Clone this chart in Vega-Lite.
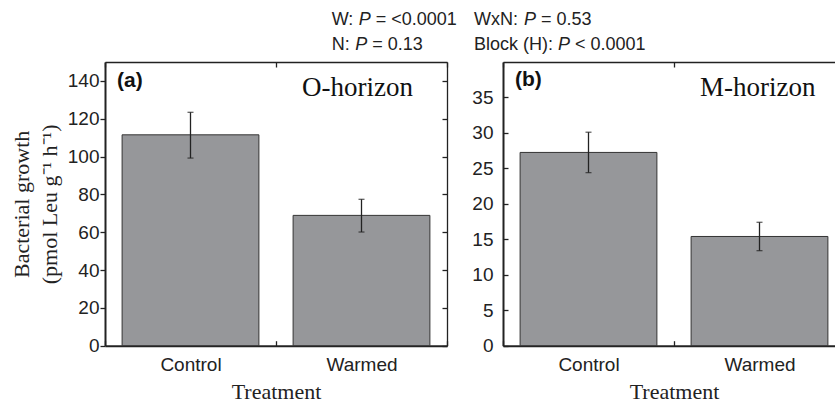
{
  "$schema": "https://vega.github.io/schema/vega-lite/v6.json",
  "padding": {"left": 10, "top": 11, "right": 0, "bottom": 0},
  "background": "white",
  "config": {
    "view": {"stroke": null},
    "font": "Liberation Sans",
    "axis": {
      "grid": false,
      "labelFont": "Liberation Sans",
      "labelFontSize": 19,
      "labelColor": "#222",
      "titleFont": "Liberation Serif",
      "titleFontSize": 22,
      "titleFontWeight": "normal",
      "titleColor": "#222",
      "domainColor": "#222",
      "tickColor": "#222",
      "tickWidth": 1.3,
      "zindex": 1
    }
  },
  "datasets": {
    "o_horizon": [
      {"horizon": "O-horizon", "treatment": "Control", "mean": 111.5, "lo": 99.2, "hi": 123.4},
      {"horizon": "O-horizon", "treatment": "Warmed", "mean": 68.9, "lo": 60.1, "hi": 77.4}
    ],
    "m_horizon": [
      {"horizon": "M-horizon", "treatment": "Control", "mean": 27.25, "lo": 24.4, "hi": 30.1},
      {"horizon": "M-horizon", "treatment": "Warmed", "mean": 15.4, "lo": 13.4, "hi": 17.4}
    ],
    "annot": [
      {"id": "W", "line": 1, "col": 1, "pre": "W:", "post": "= <0.0001"},
      {"id": "WxN", "line": 1, "col": 2, "pre": "WxN:", "post": "= 0.53"},
      {"id": "N", "line": 2, "col": 1, "pre": "N:", "post": "= 0.13"},
      {"id": "Block", "line": 2, "col": 2, "pre": "Block (H):", "post": "< 0.0001"}
    ]
  },
  "bounds": "flush",
  "spacing": 0,
  "vconcat": [
    {
      "width": 740,
      "height": 40,
      "data": {"name": "annot"},
      "encoding": {
        "x": {"field": "col", "type": "quantitative", "scale": {"domain": [1, 2], "range": [226.7, 369]}, "axis": null},
        "y": {"field": "line", "type": "quantitative", "scale": {"domain": [1, 2], "range": [3.4, 28.2]}, "axis": null}
      },
      "layer": [
        {"mark": {"type": "text", "align": "left", "baseline": "alphabetic", "fontSize": 18, "color": "#222"},
         "encoding": {"text": {"field": "pre"}}},
        {"transform": [{"filter": "datum.id === 'W'"}],
         "mark": {"type": "text", "align": "left", "baseline": "alphabetic", "fontSize": 18, "fontStyle": "italic", "color": "#222", "dx": 27},
         "encoding": {"text": {"value": "P"}}},
        {"transform": [{"filter": "datum.id === 'N'"}],
         "mark": {"type": "text", "align": "left", "baseline": "alphabetic", "fontSize": 18, "fontStyle": "italic", "color": "#222", "dx": 23.5},
         "encoding": {"text": {"value": "P"}}},
        {"transform": [{"filter": "datum.id === 'WxN'"}],
         "mark": {"type": "text", "align": "left", "baseline": "alphabetic", "fontSize": 18, "fontStyle": "italic", "color": "#222", "dx": 50},
         "encoding": {"text": {"value": "P"}}},
        {"transform": [{"filter": "datum.id === 'Block'"}],
         "mark": {"type": "text", "align": "left", "baseline": "alphabetic", "fontSize": 18, "fontStyle": "italic", "color": "#222", "dx": 84},
         "encoding": {"text": {"value": "P"}}},
        {"transform": [{"filter": "datum.id === 'W'"}],
         "mark": {"type": "text", "align": "left", "baseline": "alphabetic", "fontSize": 18, "color": "#222", "dx": 44},
         "encoding": {"text": {"field": "post"}}},
        {"transform": [{"filter": "datum.id === 'N'"}],
         "mark": {"type": "text", "align": "left", "baseline": "alphabetic", "fontSize": 18, "color": "#222", "dx": 40.5},
         "encoding": {"text": {"field": "post"}}},
        {"transform": [{"filter": "datum.id === 'WxN'"}],
         "mark": {"type": "text", "align": "left", "baseline": "alphabetic", "fontSize": 18, "color": "#222", "dx": 67},
         "encoding": {"text": {"field": "post"}}},
        {"transform": [{"filter": "datum.id === 'Block'"}],
         "mark": {"type": "text", "align": "left", "baseline": "alphabetic", "fontSize": 18, "color": "#222", "dx": 101},
         "encoding": {"text": {"field": "post"}}}
      ]
    },
    {
      "bounds": "flush",
      "spacing": 56,
      "hconcat": [
        {
          "width": 342,
          "height": 283.7,
          "resolve": {"axis": {"x": "independent", "y": "independent"}},
          "layer": [
            {
              "data": {"name": "o_horizon"},
              "mark": {"type": "bar", "fill": "#96979a", "stroke": "#333", "strokeWidth": 1, "width": {"band": 0.8}},
              "encoding": {
                "x": {"field": "treatment", "type": "nominal", "sort": ["Control", "Warmed"], "scale": {"paddingInner": 0, "paddingOuter": 0},
                      "axis": {"orient": "bottom", "title": "Treatment", "labelAngle": 0, "tickBand": "extent", "tickSize": -5, "labelPadding": 15, "domainWidth": 2, "titlePadding": 7}},
                "y": {"field": "mean", "type": "quantitative", "scale": {"domain": [0, 150], "nice": false},
                      "axis": {"orient": "left", "values": [0, 20, 40, 60, 80, 100, 120, 140], "tickSize": 5, "labelPadding": 1, "domainWidth": 2,
                               "title": ["Bacterial growth", "(pmol Leu g⁻¹ h⁻¹)"], "titlePadding": 6, "titleLineHeight": 28}}
              }
            },
            {
              "data": {"name": "o_horizon"},
              "mark": {"type": "rule", "stroke": "#222", "strokeWidth": 1.3},
              "encoding": {
                "x": {"field": "treatment", "type": "nominal", "sort": ["Control", "Warmed"],
                      "axis": {"orient": "top", "labels": false, "title": null, "tickBand": "extent", "tickSize": -5, "domainWidth": 1.3}},
                "y": {"field": "lo", "type": "quantitative", "scale": {"domain": [0, 150], "nice": false},
                      "axis": {"orient": "right", "labels": false, "title": null, "values": [0, 20, 40, 60, 80, 100, 120, 140], "tickSize": -5, "domainWidth": 1.3}},
                "y2": {"field": "hi"}
              }
            },
            {
              "data": {"name": "o_horizon"},
              "mark": {"type": "tick", "color": "#222", "size": 6, "thickness": 1.3},
              "encoding": {
                "x": {"field": "treatment", "type": "nominal", "sort": ["Control", "Warmed"], "axis": null},
                "y": {"field": "lo", "type": "quantitative", "scale": {"domain": [0, 150], "nice": false}, "axis": null}
              }
            },
            {
              "data": {"name": "o_horizon"},
              "mark": {"type": "tick", "color": "#222", "size": 6, "thickness": 1.3},
              "encoding": {
                "x": {"field": "treatment", "type": "nominal", "sort": ["Control", "Warmed"], "axis": null},
                "y": {"field": "hi", "type": "quantitative", "scale": {"domain": [0, 150], "nice": false}, "axis": null}
              }
            },
            {
              "data": {"values": [{"label": "(a)"}]},
              "mark": {"type": "text", "font": "Liberation Sans", "fontWeight": "bold", "fontSize": 21, "align": "left", "baseline": "alphabetic", "dx": 12, "color": "#111"},
              "encoding": {
                "x": {"datum": "Control", "bandPosition": 0, "axis": null},
                "y": {"datum": 136.6, "axis": null},
                "text": {"field": "label"}
              }
            },
            {
              "data": {"values": [{"label": "O-horizon"}]},
              "mark": {"type": "text", "font": "Liberation Serif", "fontSize": 27, "align": "left", "baseline": "alphabetic", "dx": 26, "color": "#111"},
              "encoding": {
                "x": {"datum": "Warmed", "bandPosition": 0, "axis": null},
                "y": {"datum": 131.8, "axis": null},
                "text": {"field": "label"}
              }
            }
          ]
        },
        {
          "width": 342,
          "height": 283.7,
          "resolve": {"axis": {"x": "independent", "y": "independent"}},
          "layer": [
            {
              "data": {"name": "m_horizon"},
              "mark": {"type": "bar", "fill": "#96979a", "stroke": "#333", "strokeWidth": 1, "width": {"band": 0.8}},
              "encoding": {
                "x": {"field": "treatment", "type": "nominal", "sort": ["Control", "Warmed"], "scale": {"paddingInner": 0, "paddingOuter": 0},
                      "axis": {"orient": "bottom", "title": "Treatment", "labelAngle": 0, "tickBand": "extent", "tickSize": -5, "labelPadding": 15, "domainWidth": 2, "titlePadding": 7}},
                "y": {"field": "mean", "type": "quantitative", "scale": {"domain": [0, 40], "nice": false},
                      "axis": {"orient": "left", "values": [0, 5, 10, 15, 20, 25, 30, 35], "tickSize": -5, "labelPadding": 15, "domainWidth": 2, "title": null}}
              }
            },
            {
              "data": {"name": "m_horizon"},
              "mark": {"type": "rule", "stroke": "#222", "strokeWidth": 1.3},
              "encoding": {
                "x": {"field": "treatment", "type": "nominal", "sort": ["Control", "Warmed"],
                      "axis": {"orient": "top", "labels": false, "title": null, "tickBand": "extent", "tickSize": -5, "domainWidth": 1.3}},
                "y": {"field": "lo", "type": "quantitative", "scale": {"domain": [0, 40], "nice": false},
                      "axis": {"orient": "right", "labels": false, "title": null, "values": [0, 5, 10, 15, 20, 25, 30, 35], "tickSize": -5, "domainWidth": 1.3}},
                "y2": {"field": "hi"}
              }
            },
            {
              "data": {"name": "m_horizon"},
              "mark": {"type": "tick", "color": "#222", "size": 6, "thickness": 1.3},
              "encoding": {
                "x": {"field": "treatment", "type": "nominal", "sort": ["Control", "Warmed"], "axis": null},
                "y": {"field": "lo", "type": "quantitative", "scale": {"domain": [0, 40], "nice": false}, "axis": null}
              }
            },
            {
              "data": {"name": "m_horizon"},
              "mark": {"type": "tick", "color": "#222", "size": 6, "thickness": 1.3},
              "encoding": {
                "x": {"field": "treatment", "type": "nominal", "sort": ["Control", "Warmed"], "axis": null},
                "y": {"field": "hi", "type": "quantitative", "scale": {"domain": [0, 40], "nice": false}, "axis": null}
              }
            },
            {
              "data": {"values": [{"label": "(b)"}]},
              "mark": {"type": "text", "font": "Liberation Sans", "fontWeight": "bold", "fontSize": 21, "align": "left", "baseline": "alphabetic", "dx": 12, "color": "#111"},
              "encoding": {
                "x": {"datum": "Control", "bandPosition": 0, "axis": null},
                "y": {"datum": 36.65, "axis": null},
                "text": {"field": "label"}
              }
            },
            {
              "data": {"values": [{"label": "M-horizon"}]},
              "mark": {"type": "text", "font": "Liberation Serif", "fontSize": 27, "align": "left", "baseline": "alphabetic", "dx": 26, "color": "#111"},
              "encoding": {
                "x": {"datum": "Warmed", "bandPosition": 0, "axis": null},
                "y": {"datum": 35.25, "axis": null},
                "text": {"field": "label"}
              }
            }
          ]
        }
      ]
    }
  ]
}
